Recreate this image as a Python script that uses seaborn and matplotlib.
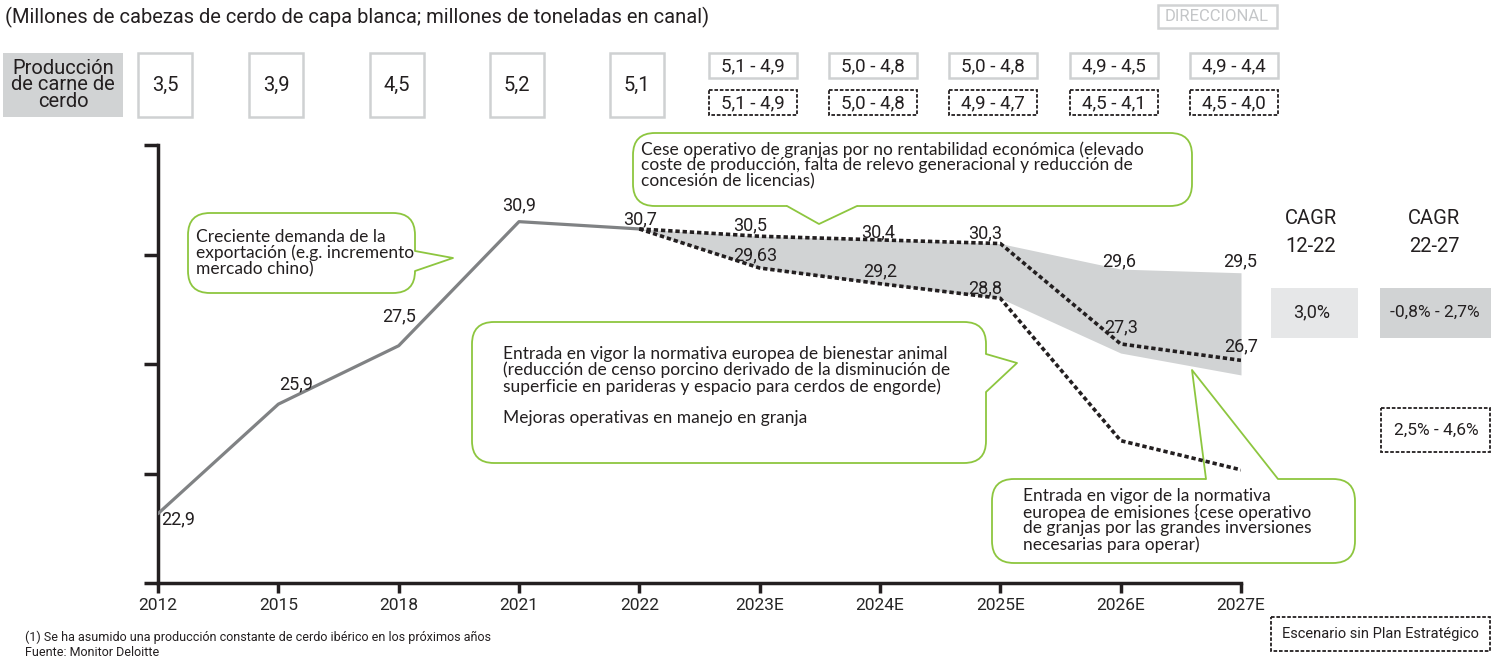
import matplotlib
matplotlib.use("Agg")
import matplotlib.pyplot as plt
from matplotlib import font_manager
from matplotlib.patches import FancyBboxPatch, Polygon, Rectangle
import numpy as np
import seaborn as sns

# Datos
years = ['2012', '2015', '2018', '2021', '2022', '2023E', '2024E', '2025E', '2026E', '2027E']
hist_values = [22.9, 25.9, 27.5, 30.9, 30.7]
line_a = [30.7, 30.5, 30.4, 30.3, 27.55, 27.1]
line_b = [30.7, 29.63, 29.2, 28.8, 24.9, 24.1]
band_top = [30.7, 30.5, 30.4, 30.3, 29.6, 29.5]
band_bottom = [30.7, 29.63, 29.2, 28.8, 27.3, 26.7]

prod_hist = ['3,5', '3,9', '4,5', '5,2', '5,1']
prod_range = ['5,1 - 4,9', '5,0 - 4,8', '5,0 - 4,8', '4,9 - 4,5', '4,9 - 4,4']
prod_range_sin_plan = ['5,1 - 4,9', '5,0 - 4,8', '4,9 - 4,7', '4,5 - 4,1', '4,5 - 4,0']

cagr_hist = '3,0%'
cagr_plan = '-0,8% - 2,7%'
cagr_sin_plan = '2,5% - 4,6%'

GREEN = '#8dc63f'
DARK = '#231f20'
GREY_LINE = '#808284'
BAND = '#d1d3d4'
LIGHT = '#e6e7e8'

sns.set_style('ticks')
names = {f.name for f in font_manager.fontManager.ttflist}
NARROW = 'Liberation Sans Narrow' if 'Liberation Sans Narrow' in names else 'Roboto'
plt.rcParams['font.family'] = ['Lato', 'DejaVu Sans']

W, H = 1505, 663
fig = plt.figure(figsize=(W / 100, H / 100), dpi=100)

# capa de anotaciones en pixeles
ov = fig.add_axes([0, 0, 1, 1], zorder=0)
ov.set_xlim(0, W)
ov.set_ylim(H, 0)
ov.axis('off')

ax = fig.add_axes([158 / W, 1 - 583 / H, (1241 - 158) / W, (583 - 145) / H], zorder=1)
ax.patch.set_alpha(0)

x_hist = np.arange(len(hist_values))
x_proj = np.arange(4, 10)

ax.fill_between(x_proj, band_bottom, band_top, color=BAND, lw=0, zorder=1)
sns.lineplot(x=x_hist, y=hist_values, ax=ax, color=GREY_LINE, lw=2.3, zorder=3)
sns.lineplot(x=x_proj, y=line_a, ax=ax, color=DARK, lw=2.6, linestyle=(0, (1.2, 0.8)), zorder=4)
sns.lineplot(x=x_proj, y=line_b, ax=ax, color=DARK, lw=2.6, linestyle=(0, (1.2, 0.8)), zorder=4)

ax.set_xlim(0, 9)
ax.set_ylim(21, 33)
ax.set_xticks(range(len(years)), years, fontfamily=NARROW, fontsize=12.5)
ax.set_yticks([21, 24, 27, 30, 33], [''] * 5)
ax.tick_params(axis='x', length=7, width=2.5, color=DARK, pad=4)
ax.tick_params(axis='y', length=10, width=2.5, color=DARK)
for s in ['left', 'bottom']:
    ax.spines[s].set_linewidth(2.5)
    ax.spines[s].set_color(DARK)
sns.despine(ax=ax)
ax.set_xlabel('')
ax.set_ylabel('')

# etiquetas de valores
labels = [
    (0, 22.9, '22,9', 20, -6), (1, 25.9, '25,9', 18, 20), (2, 27.5, '27,5', 0, 29),
    (3, 30.9, '30,9', 0, 16), (4, 30.7, '30,7', 1, 10), (5, 30.5, '30,5', -10, 11),
    (5, 29.63, '29,63', -4, 13), (6, 30.4, '30,4', -2, 8), (6, 29.2, '29,2', 0, 12),
    (7, 30.3, '30,3', -15, 10), (7, 28.8, '28,8', -15, 10), (8, 29.6, '29,6', -2, 8),
    (9, 29.5, '29,5', -1, 11), (8, 27.55, '27,3', 0, 17), (9, 27.1, '26,7', 0, 14),
]
for xi, yv, txt, dx, dy in labels:
    ax.annotate(txt, (xi, yv), xytext=(dx, dy), textcoords='offset pixels',
                ha='center', va='center', fontsize=13, fontfamily=NARROW, color=DARK, zorder=5)


def xpix(i):
    return ax.transData.transform((i, 21))[0]


def box(x0, y0, x1, y1, fc='white', ec='#cfd1d2', lw=1.8, ls='-'):
    ov.add_patch(Rectangle((x0, y0), x1 - x0, y1 - y0, fc=fc, ec=ec, lw=lw, ls=ls))


fig.canvas.draw()

# fila de produccion
box(3, 53, 123, 117, fc=BAND, ec='none')
ov.text(63, 85, 'Producción\nde carne de\ncerdo', ha='center', va='center', fontsize=14.5,
        fontfamily=NARROW, linespacing=0.85, color=DARK)
for i, t in enumerate(prod_hist):
    cx = xpix(i) + (7 if i == 0 else -2)
    box(cx - 27, 53, cx + 27, 117)
    ov.text(cx, 85, t, ha='center', va='center', fontsize=14.5, fontfamily=NARROW, color=DARK)
for j, (t1, t2) in enumerate(zip(prod_range, prod_range_sin_plan)):
    cx = xpix(5 + j) - 7
    box(cx - 44, 53, cx + 44, 78)
    ov.text(cx, 66, t1, ha='center', va='center', fontsize=13.5, fontfamily=NARROW, color=DARK)
    box(cx - 44, 90, cx + 44, 115, ec=DARK, lw=1.3, ls=(0, (2, 1)))
    ov.text(cx, 103, t2, ha='center', va='center', fontsize=13.5, fontfamily=NARROW, color=DARK)

ov.text(5, 17, '(Millones de cabezas de cerdo de capa blanca; millones de toneladas en canal)',
        ha='left', va='center', fontsize=14.5, fontfamily=NARROW, color=DARK)
box(1158, 5, 1277, 28, ec=BAND, lw=1.8)
ov.text(1217, 16.5, 'DIRECCIONAL', ha='center', va='center', fontsize=12, fontfamily=NARROW, color='#c4c6c8')

# CAGR
for cx, sub in [(1311, '12-22'), (1434, '22-27')]:
    ov.text(cx, 218, 'CAGR', ha='center', va='center', fontsize=14.5, fontfamily=NARROW, color=DARK)
    ov.text(cx, 246, sub, ha='center', va='center', fontsize=14.5, fontfamily=NARROW, color=DARK)
box(1271, 288, 1358, 338, fc=LIGHT, ec='none')
ov.text(1312, 312, cagr_hist, ha='center', va='center', fontsize=13, fontfamily=NARROW, color=DARK)
box(1380, 288, 1491, 338, fc=BAND, ec='none')
ov.text(1435, 312, cagr_plan, ha='center', va='center', fontsize=12.5, fontfamily=NARROW, color=DARK)
box(1381, 408, 1490, 452, ec=DARK, lw=1.3, ls=(0, (2, 1)))
ov.text(1436, 430, cagr_sin_plan, ha='center', va='center', fontsize=12.5, fontfamily=NARROW, color=DARK)

box(1271, 617, 1490, 651, ec=DARK, lw=1.3, ls=(0, (2, 1)))
ov.text(1380, 634, 'Escenario sin Plan Estratégico', ha='center', va='center', fontsize=10.5,
        fontfamily=NARROW, color=DARK)

ov.text(25, 637, '(1) Se ha asumido una producción constante de cerdo ibérico en los próximos años',
        ha='left', va='center', fontsize=9, fontfamily=NARROW, color=DARK)
ov.text(25, 652, 'Fuente: Monitor Deloitte', ha='left', va='center', fontsize=9,
        fontfamily=NARROW, color=DARK)


# globos de texto
def callout(x0, y0, x1, y1, b1, tip, b2, text, tx, ty, r=22):
    ov.add_patch(FancyBboxPatch((x0, y0), x1 - x0, y1 - y0,
                                boxstyle=f'round,pad=0,rounding_size={r}',
                                fc='white', ec=GREEN, lw=1.3, zorder=2))
    mid = np.array([(b1[0] + b2[0]) / 2, (b1[1] + b2[1]) / 2])
    d = mid - np.array(tip)
    d = d / np.linalg.norm(d) * 3
    pts = [np.array(b1) + d, b1, tip, b2, np.array(b2) + d]
    ov.add_patch(Polygon(pts, closed=True, fc='white', ec='none', zorder=3))
    ov.plot([b1[0], tip[0], b2[0]], [b1[1], tip[1], b2[1]], color=GREEN, lw=1.3, zorder=4)
    ov.text(tx, ty, text, ha='left', va='top', fontsize=12.5, color=DARK, linespacing=0.98, zorder=5)


callout(188, 213, 415, 293, (415, 251), (453, 258), (415, 271),
        'Creciente demanda de la\nexportación (e.g. incremento\nmercado chino)', 196, 229)
callout(633, 133, 1192, 206, (787, 206), (819, 224), (857, 206),
        'Cese operativo de granjas por no rentabilidad económica (elevado\n'
        'coste de producción, falta de relevo generacional y reducción de\n'
        'concesión de licencias)', 641, 141)
callout(472, 322, 986, 463, (986, 354), (1017, 363), (986, 392),
        'Entrada en vigor la normativa europea de bienestar animal\n'
        '(reducción de censo porcino derivado de la disminución de\n'
        'superficie en parideras y espacio para cerdos de engorde)\n\n'
        'Mejoras operativas en manejo en granja', 503, 346)
callout(992, 479, 1355, 563, (1206, 479), (1192, 370), (1278, 479),
        'Entrada en vigor de la normativa\neuropea de emisiones {cese operativo\n'
        'de granjas por las grandes inversiones\nnecesarias para operar)', 1023, 488)

fig.savefig('out.png', dpi=100)
